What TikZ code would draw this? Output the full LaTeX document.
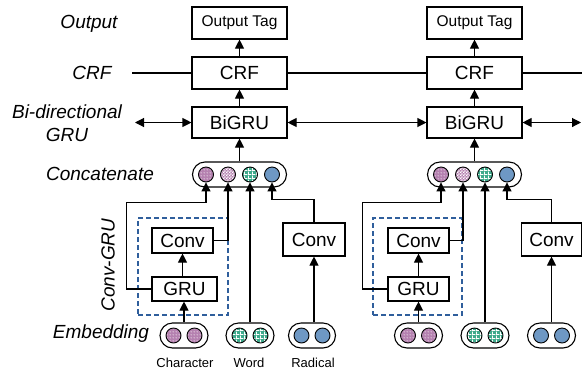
\documentclass[tikz,border=0pt]{standalone}
\usepackage{fontspec}
\setmainfont{Liberation Sans}
\usepackage{tikz}
\usetikzlibrary{positioning}
\usetikzlibrary{%
  arrows.meta,%
  patterns%
}
\definecolor{charpink}{HTML}{B581B0}
\definecolor{wordgreen}{HTML}{3FAA8C}
\definecolor{radblue}{HTML}{6E98C4}
\definecolor{dashblue}{HTML}{2F5E9C}
\pgfdeclarepatternformonly{finedots}{\pgfpointorigin}{\pgfqpoint{2.6bp}{2.6bp}}{\pgfqpoint{2.6bp}{2.6bp}}{%
  \pgfpathcircle{\pgfqpoint{1.3bp}{1.3bp}}{0.6bp}%
  \pgfusepath{fill}}
\pgfdeclarepatternformonly{finechecker}{\pgfpointorigin}{\pgfqpoint{3.2bp}{3.2bp}}{\pgfqpoint{3.2bp}{3.2bp}}{%
  \pgfpathrectangle{\pgfpointorigin}{\pgfqpoint{1.6bp}{1.6bp}}%
  \pgfpathrectangle{\pgfqpoint{1.6bp}{1.6bp}}{\pgfqpoint{1.6bp}{1.6bp}}%
  \pgfusepath{fill}}
\pgfdeclarepatternformonly{finegrid}{\pgfpointorigin}{\pgfqpoint{4bp}{4bp}}{\pgfqpoint{4bp}{4bp}}{%
  \pgfpathrectangle{\pgfpointorigin}{\pgfqpoint{1bp}{4bp}}%
  \pgfpathrectangle{\pgfpointorigin}{\pgfqpoint{4bp}{1bp}}%
  \pgfusepath{fill}}

\begin{document}
\begin{tikzpicture}[x=1bp, y=-1bp, line width=1.1bp,
  >={Triangle[length=9bp,width=9bp]},
  box/.style={draw, fill=white, inner sep=0pt, font=\fontsize{19bp}{23bp}\selectfont},
  pill/.style={draw, rounded corners=12.5bp, minimum height=25bp, inner sep=0pt},
  dot/.style={draw, circle, minimum size=15bp, inner sep=0pt, line width=0.9bp},
  chr/.style={dot, preaction={fill=charpink}, pattern=finedots, pattern color=white},
  cat/.style={dot, preaction={fill=charpink}, pattern=finechecker, pattern color=white},
  wrd/.style={dot, preaction={fill=wordgreen}, pattern=finegrid, pattern color=white},
  rad/.style={dot, fill=radblue},
  layer/.style={font=\fontsize{19bp}{23bp}\selectfont\itshape, align=center},
  small/.style={font=\fontsize{13bp}{15bp}\selectfont},
  dashbox/.style={draw=dashblue, dash pattern=on 5bp off 3bp, minimum width=90bp, minimum height=97bp}]
\useasboundingbox (0,0) rectangle (582,370);

\node[layer] (lOut) at (89,24) {Output};
\node[layer] (lCrf) at (92,73) {CRF};
\node[layer] (lBi) at (67,123.5) {Bi-directional\\GRU};
\node[layer] (lCat) at (100,174) {Concatenate};
\node[layer, rotate=90] (lCg) at (108,265) {Conv-GRU};
\node[layer] (lEmb) at (101,334) {Embedding};
\node[small] (lChar) at (185,363) {Character};
\node[small] (lWord) at (249,363) {Word};
\node[small] (lRad) at (313,363) {Radical};

\node[box, minimum width=95bp, minimum height=32bp, font=\fontsize{15.5bp}{18bp}\selectfont] (out1) at (239.5,23) {Output Tag};
\node[box, minimum width=95bp, minimum height=32bp] (crf1) at (239.5,73) {CRF};
\node[box, minimum width=95bp, minimum height=31bp] (bigru1) at (239.5,122.5) {BiGRU};
\node[pill, minimum width=94bp] (cat1) at (239.5,174.5) {};
\node[chr] (cat1a) at (206,174.5) {};
\node[cat] (cat1b) at (228,174.5) {};
\node[wrd] (cat1c) at (250,174.5) {};
\node[rad] (cat1d) at (272,174.5) {};
\node[dashbox] (cg1) at (183,266.5) {};
\node[box, minimum width=61bp, minimum height=25bp] (conv1) at (182.5,240.5) {Conv};
\node[box, minimum width=65bp, minimum height=24bp] (gru1) at (184.5,289) {GRU};
\node[box, minimum width=62bp, minimum height=33bp] (rconv1) at (314,239.5) {Conv};
\node[pill, minimum width=48bp] (char1) at (184,335.5) {};
\node[chr] (char1a) at (173.5,335.5) {};
\node[chr] (char1b) at (194.5,335.5) {};
\node[pill, minimum width=48bp] (word1) at (250,335.5) {};
\node[wrd] (word1a) at (239.5,335.5) {};
\node[wrd] (word1b) at (260.5,335.5) {};
\node[pill, minimum width=47bp] (rad1) at (312,335.5) {};
\node[rad] (rad1a) at (301.5,335.5) {};
\node[rad] (rad1b) at (322.5,335.5) {};

\node[box, minimum width=95bp, minimum height=32bp, font=\fontsize{15.5bp}{18bp}\selectfont] (out2) at (474.5,23) {Output Tag};
\node[box, minimum width=95bp, minimum height=32bp] (crf2) at (474.5,73) {CRF};
\node[box, minimum width=95bp, minimum height=31bp] (bigru2) at (474.5,122.5) {BiGRU};
\node[pill, minimum width=94bp] (cat2) at (474.5,174.5) {};
\node[chr] (cat2a) at (441,174.5) {};
\node[cat] (cat2b) at (463,174.5) {};
\node[wrd] (cat2c) at (485,174.5) {};
\node[rad] (cat2d) at (507,174.5) {};
\node[dashbox, minimum width=89bp] (cg2) at (417.5,266.5) {};
\node[box, minimum width=61bp, minimum height=25bp] (conv2) at (418.5,240.5) {Conv};
\node[box, minimum width=61bp, minimum height=24bp] (gru2) at (418.5,289) {GRU};
\node[box, minimum width=60bp, minimum height=33bp] (rconv2) at (551.5,239.5) {Conv};
\node[pill, minimum width=48bp] (char2) at (418.5,335.5) {};
\node[chr] (char2a) at (408,335.5) {};
\node[chr] (char2b) at (429,335.5) {};
\node[pill, minimum width=48bp] (word2) at (485,335.5) {};
\node[wrd] (word2a) at (474.5,335.5) {};
\node[wrd] (word2b) at (495.5,335.5) {};
\node[pill, minimum width=48bp] (rad2) at (551.5,335.5) {};
\node[rad] (rad2a) at (541,335.5) {};
\node[rad] (rad2b) at (562,335.5) {};

\coordinate (crfL) at (132,73);
\coordinate (crfR) at (582,73);
\coordinate (biL) at (135,122.5);
\coordinate (biR) at (581,122.5);

\draw
	(crfL) -- (crf1)
	(crf1) -- (crf2)
	(crf2) -- (crfR)
	(biL) edge[<->] (bigru1)
	(bigru1) edge[<->] (bigru2)
	(bigru2) edge[<->] (biR)
	(cat1) edge[->] (bigru1)
	(bigru1) edge[->] (crf1)
	(crf1) edge[->] (out1)
	(cat2) edge[->] (bigru2)
	(bigru2) edge[->] (crf2)
	(crf2) edge[->] (out2)
	(char1.north) edge[->] (char1.north |- gru1.south)
	(gru1.north -| conv1) edge[->] (conv1.south)
	(word1.north) edge[->] (cat1c.south)
	(rad1.north -| rconv1) edge[->] (rconv1.south)
	(char2.north) edge[->] (gru2.south)
	(gru2) edge[->] (conv2)
	(word2.north) edge[->] (cat2c.south)
	(rad2.north) edge[->] (rconv2.south)
;
\draw[->] (gru1.west) -- ++(-25,0) |- ([yshift=-20bp]cat1a.south) -- (cat1a.south);
\draw[->] (conv1.east) -| (cat1b.south);
\draw[->] (rconv1.north) |- ([yshift=-17bp]cat1d.south) -- (cat1d.south);
\draw[->] (gru2.west) -- ++(-25,0) |- ([yshift=-20bp]cat2a.south) -- (cat2a.south);
\draw[->] (conv2.east) -| (cat2b.south);
\draw[->] (rconv2.north) |- ([yshift=-17bp]cat2d.south) -- (cat2d.south);
\end{tikzpicture}
\end{document}
